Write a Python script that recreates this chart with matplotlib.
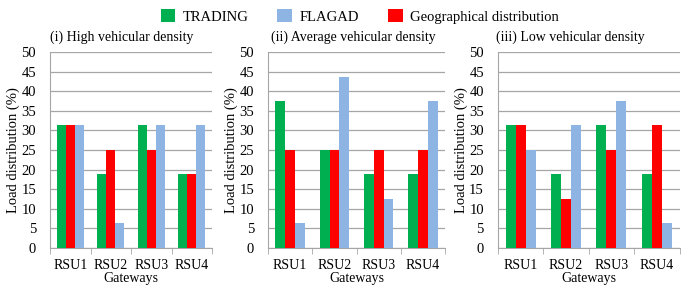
import matplotlib
matplotlib.use("Agg")
import matplotlib.pyplot as plt
import numpy as np

gateways = ['RSU1', 'RSU2', 'RSU3', 'RSU4']
titles = ['(i) High vehicular density', '(ii) Average vehicular density', '(iii) Low vehicular density']

# values per panel (high, average, low density)
trading = [[31.25, 18.75, 31.25, 18.75],
           [37.5, 25, 18.75, 18.75],
           [31.25, 18.75, 31.25, 18.75]]
geo = [[31.25, 25, 25, 18.75],
       [25, 25, 25, 25],
       [31.25, 12.5, 25, 31.25]]
flagad = [[31.25, 6.25, 31.25, 31.25],
          [6.25, 43.75, 12.5, 37.5],
          [25, 31.25, 37.5, 6.25]]

plt.rcParams['font.family'] = ['Liberation Serif', 'DejaVu Serif']
plt.rcParams['font.size'] = 10

green = '#00B050'
red = '#FF0000'
blue = '#8DB4E2'

fig = plt.figure(figsize=(6.81, 2.85), dpi=100)
lefts = [0.0734, 0.3935, 0.731]
widths = [0.238, 0.26, 0.267]
title_x = [0.44, 0.48, 0.40]
bottom, height = 0.13, 0.6875

x = np.arange(len(gateways))
w = 0.22
handles = None
for k in range(3):
    ax = fig.add_axes([lefts[k], bottom, widths[k], height])
    b1 = ax.bar(x - w, trading[k], w, color=green, label='TRADING', zorder=3)
    b2 = ax.bar(x, geo[k], w, color=red, label='Geographical distribution', zorder=3)
    b3 = ax.bar(x + w, flagad[k], w, color=blue, label='FLAGAD', zorder=3)
    handles = [b1, b3, b2]
    ax.set_xlim(-0.5, 3.5)
    ax.set_ylim(0, 50)
    ax.set_yticks(range(0, 51, 5))
    ax.yaxis.grid(True, color='#A6A6A6', linewidth=0.9, zorder=0)
    ax.set_axisbelow(True)
    ax.set_xticks(x)
    ax.set_xticklabels(gateways)
    ax.set_xticks(np.arange(-0.5, 4, 1), minor=True)
    ax.tick_params(axis='x', which='major', length=0, pad=8)
    ax.tick_params(axis='x', which='minor', length=4, color='#A6A6A6', direction='out')
    ax.tick_params(axis='y', length=0, pad=10, labelsize=10.5)
    for s in ['top', 'right']:
        ax.spines[s].set_visible(False)
    for s in ['left', 'bottom']:
        ax.spines[s].set_color('#A6A6A6')
    ax.set_xlabel('Gateways', labelpad=0)
    ax.set_ylabel('Load distribution (%)', labelpad=1, fontsize=10.5)
    ax.set_title(titles[k], fontsize=10, x=title_x[k], pad=8)

fig.legend(handles, ['TRADING', 'FLAGAD', 'Geographical distribution'],
           loc='center', bbox_to_anchor=(0.528, 0.942), ncol=3, frameon=False,
           fontsize=10.5, handlelength=1.0, handleheight=1.0, columnspacing=2.0,
           handletextpad=0.5)

fig.savefig('out.png', dpi=100)
